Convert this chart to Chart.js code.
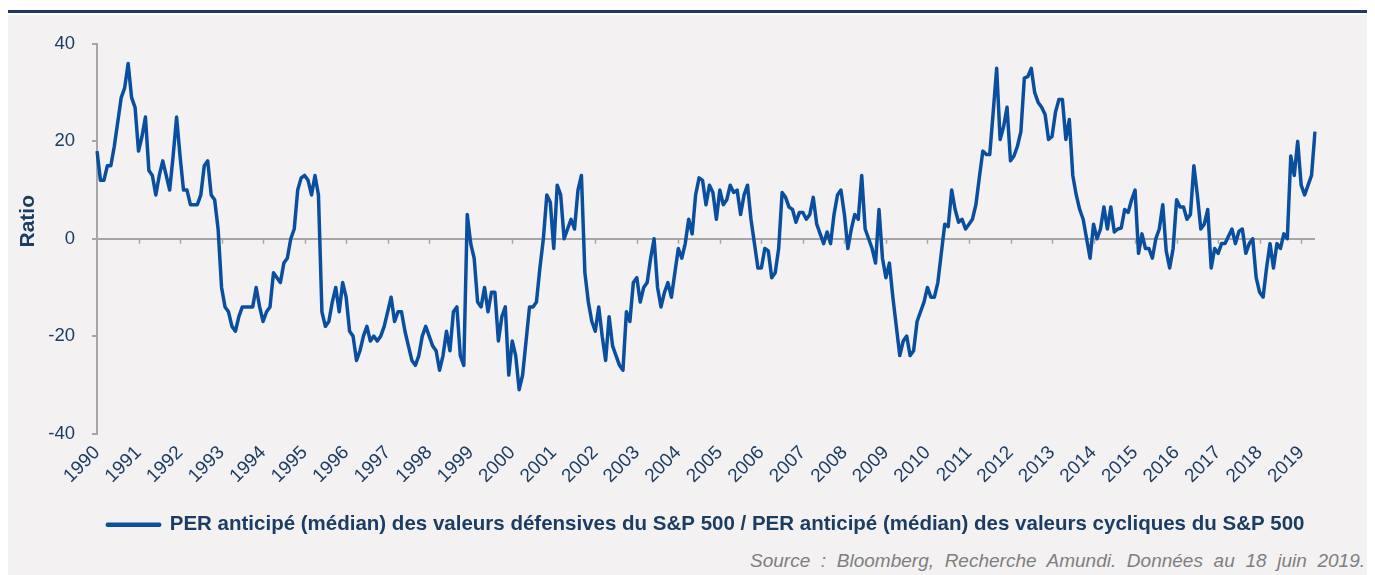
<!DOCTYPE html>
<html>
<head>
<meta charset="utf-8">
<script src="https://cdn.jsdelivr.net/npm/chart.js@4/dist/chart.umd.min.js"></script>
<style>
  html, body { margin: 0; padding: 0; background: #ffffff; }
  body { width: 1375px; height: 575px; position: relative; overflow: hidden; font-family: "Liberation Sans", Arial, sans-serif; }
  #topbar { position: absolute; left: 8px; top: 10px; width: 1359px; height: 3px; background: #1f3864; }
  #panel { position: absolute; left: 8px; top: 15px; width: 1359px; height: 560px; background: #f3f1f2; }
  #chart { position: absolute; left: 0; top: 0; }
  #source { position: absolute; left: 750px; top: 550px; width: 615px; font-style: italic; font-size: 19px;
            color: #7f7f7f; text-align: justify; text-align-last: justify; white-space: nowrap; }
</style>
</head>
<body>
<div id="topbar"></div>
<div id="panel"></div>
<canvas id="chart" width="1375" height="549"></canvas>
<div id="source">Source : Bloomberg, Recherche Amundi. Données au 18 juin 2019.</div>
<script>
// tick labels (one per year, shown at January)
const years = ['1990','1991','1992','1993','1994','1995','1996','1997','1998','1999',
  '2000','2001','2002','2003','2004','2005','2006','2007','2008','2009',
  '2010','2011','2012','2013','2014','2015','2016','2017','2018','2019']

// monthly ratio, Jan 1990 -> May 2019 (one row per year)
const ratio = [
  18, 12, 12, 15, 15, 19, 24, 29, 31, 36, 29, 27,
  18, 21, 25, 14, 13, 9, 13, 16, 13, 10, 17, 25,
  17, 10, 10, 7, 7, 7, 9, 15, 16, 9, 8, 2,
  -10, -14, -15, -18, -19, -16, -14, -14, -14, -14, -10, -14,
  -17, -15, -14, -7, -8, -9, -5, -4, 0, 2, 10, 12.5,
  13, 12, 9, 13, 9, -15, -18, -17, -13, -10, -15, -9,
  -12, -19, -20, -25, -23, -20, -18, -21, -20, -21, -20, -18,
  -15, -12, -17, -15, -15, -19, -22, -25, -26, -24, -20, -18,
  -20, -22, -23, -27, -24, -19, -23, -15, -14, -24, -26, 5,
  -1, -4, -13, -14, -10, -15, -11, -11, -21, -16, -14, -28,
  -21, -24, -31, -28, -21, -14, -14, -13, -6, 0, 9, 7.5,
  -2, 11, 9, 0, 2, 4, 2, 10, 13, -7, -13, -17,
  -19, -14, -20, -25, -16, -22, -24, -26, -27, -15, -17, -9,
  -8, -13, -10, -9, -4, 0, -10, -14, -11, -9, -12, -7,
  -2, -4, -1, 4, 1, 9, 12.5, 12, 7, 11, 9.5, 4,
  10, 7, 8, 11, 9.5, 10, 5, 9, 11, 4, -1, -6,
  -6, -2, -2.5, -8, -7, -2, 9.5, 8.5, 6.5, 6, 3.4, 5.4,
  5.4, 4, 5, 8.5, 3, 1, -1, 1.4, -1, 5, 9, 10,
  5, -2, 2, 5, 4, 13, 2, 0, -2, -5, 6, -4,
  -8, -5, -12, -18, -24, -21, -20, -24, -23, -17, -15, -13,
  -10, -12, -12, -9, -3, 3, 2.5, 10, 6, 3.4, 4, 2,
  3, 4, 7, 12.6, 18, 17.3, 17.3, 26, 35, 20.4, 23, 27,
  16, 17, 19, 22, 33, 33.3, 35, 30, 28, 27, 25.5, 20.4,
  21, 26, 28.6, 28.6, 20.4, 24.5, 13, 9, 6, 4, 0, -4,
  3, 0, 2, 6.5, 2, 6.5, 1.4, 2, 2.2, 6, 5.4, 8,
  10, -3, 1, -2, -2, -4, 0, 2, 7, -2.5, -6, -2,
  8, 6.5, 6.5, 4, 5, 15, 9, 2, 3, 6, -6, -2,
  -3, -1, -1, 0.5, 2, -1, 1.5, 2, -3, -1, 0, -8,
  -11, -12, -6, -1, -6, -1, -2, 1, 0, 17, 13, 20,
  11, 9, 11, 13, 22
]

const seriesName = 'PER anticipé (médian) des valeurs défensives du S&P 500 / PER anticipé (médian) des valeurs cycliques du S&P 500'

const navy = '#1c3d63'
const axisGrey = '#a6a6a6'
const lineBlue = '#0a4f9f'
const fontFamily = '"Liberation Sans", Arial, sans-serif'

const labels = ratio.map((v, i) => years[Math.floor(i / 12)] + '-' + (i % 12 + 1))

// small tick marks on the zero line at each January
const zeroTicks = {
  id: 'zeroTicks',
  beforeDatasetsDraw(chart) {
    const { ctx } = chart
    const x = chart.scales.x
    const y0 = chart.scales.y.getPixelForValue(0)
    ctx.save()
    ctx.strokeStyle = axisGrey
    ctx.lineWidth = 1.5
    ctx.beginPath()
    for (let i = 12; i < ratio.length; i += 12) {
      const px = Math.round(x.getPixelForValue(i)) + 0.5
      ctx.moveTo(px, y0)
      ctx.lineTo(px, y0 + 5)
    }
    ctx.stroke()
    ctx.restore()
  }
}

new Chart(document.getElementById('chart').getContext('2d'), {
  type: 'line',
  data: {
    labels: labels,
    datasets: [{
      label: seriesName,
      data: ratio,
      borderColor: lineBlue,
      backgroundColor: lineBlue,
      borderWidth: 3.5,
      borderJoinStyle: 'round',
      pointRadius: 0,
      tension: 0
    }]
  },
  options: {
    responsive: false,
    animation: false,
    devicePixelRatio: 1,
    layout: { padding: { left: 0, top: 44, right: 60, bottom: 4 } },
    plugins: {
      tooltip: { enabled: false },
      legend: {
        position: 'bottom',
        fullSize: false,
        labels: {
          color: navy,
          font: { family: fontFamily, size: 20.5, weight: 'bold' },
          boxWidth: 52,
          boxHeight: 1,
          padding: 10
        }
      }
    },
    scales: {
      x: {
        type: 'category',
        offset: false,
        grid: { display: false },
        border: { display: false },
        ticks: {
          autoSkip: false,
          minRotation: 45,
          maxRotation: 45,
          padding: 0,
          color: navy,
          font: { family: fontFamily, size: 19 },
          callback: (val, i) => (i % 12 === 0 ? years[i / 12] : '')
        },
        afterFit: (scale) => { scale.height = 71 }
      },
      y: {
        min: -40,
        max: 40,
        ticks: {
          stepSize: 20,
          padding: 17,
          color: navy,
          font: { family: fontFamily, size: 18.5 }
        },
        grid: {
          drawOnChartArea: true,
          color: (c) => (c.tick && c.tick.value === 0 ? axisGrey : 'rgba(0,0,0,0)'),
          lineWidth: 2,
          tickColor: axisGrey,
          tickLength: 5,
          tickWidth: 2
        },
        border: { display: true, color: axisGrey, width: 2 },
        title: {
          display: true,
          text: '\u00a0\u00a0\u00a0\u00a0\u00a0\u00a0Ratio',
          color: navy,
          font: { family: fontFamily, size: 21, weight: 'bold' },
          padding: { top: 16, bottom: 0 }
        },
        afterFit: (scale) => { scale.width = 97 }
      }
    }
  },
  plugins: [zeroTicks]
})
</script>
</body>
</html>
